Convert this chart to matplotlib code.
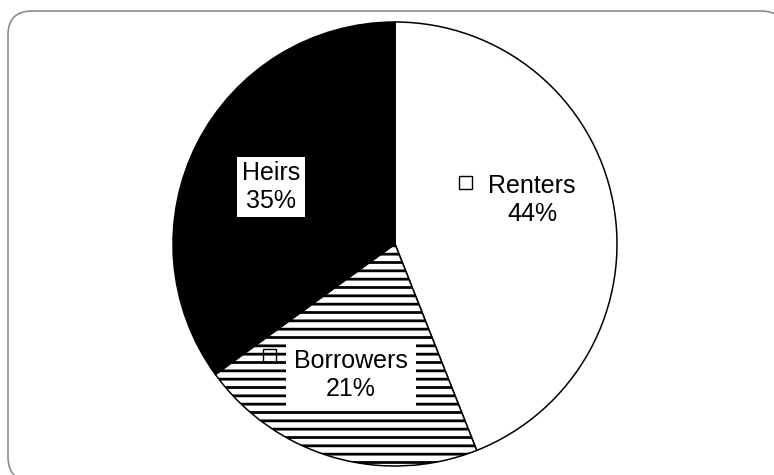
import matplotlib
matplotlib.use('Agg')
import matplotlib.pyplot as plt
from matplotlib.patches import FancyBboxPatch, Rectangle

plt.rcParams['font.family'] = ['Liberation Sans', 'DejaVu Sans']
plt.rcParams['hatch.linewidth'] = 2.0

# data
categories = ['Renters', 'Borrowers', 'Heirs']
shares = [44, 21, 35]

# styles
face_colors = ['white', 'white', 'black']
hatches = [None, '--', None]
# label centres in pixel coords (x from left, y from top)
label_pos = [(532, 200), (351, 375), (271, 187)]
box_pad = [None, 0.32, 0.18]
# key offset from label centre (dx, dy up), None = no key
key_off = [(-73, 11), (-88, 13), None]

W, H = 774, 475
fig = plt.figure(figsize=(W / 100, H / 100), dpi=100)
ax = fig.add_axes([0, 0, 1, 1])
ax.patch.set_visible(False)

wedges, _ = ax.pie(shares, colors=face_colors, startangle=90, counterclock=False,
                   center=(395, H - 244), radius=222,
                   wedgeprops=dict(edgecolor='black', linewidth=1.1))
for w, h in zip(wedges, hatches):
    if h:
        w.set_hatch(h)

for i, name in enumerate(categories):
    x, y = label_pos[i]
    txt = '{0}\n{1}%'.format(name, shares[i])
    bbox = None
    if box_pad[i]:
        bbox = dict(boxstyle='square,pad={0}'.format(box_pad[i]),
                    facecolor='white', edgecolor='none')
    ax.text(x, H - y, txt, ha='center', va='center', fontsize=18,
            linespacing=1.2, bbox=bbox, zorder=5)
    if key_off[i]:
        ks = 13
        dx, dy = key_off[i]
        key = Rectangle((x + dx, H - y + dy), ks, ks, facecolor='none',
                        edgecolor='black', linewidth=1.0, zorder=6)
        ax.add_patch(key)

ax.set_xlim(0, W)
ax.set_ylim(0, H)
ax.set_aspect('auto')
ax.axis('off')

# rounded frame in figure pixels, running off the right and bottom edges.
# filled so agg does not clip the stroke to the canvas edge
frame = FancyBboxPatch((8, -6), 777, 470,
                       boxstyle='round,pad=0,rounding_size=24',
                       facecolor='white', edgecolor='#8c8c8c', linewidth=1.2,
                       transform=None, zorder=-1)
fig.patches.append(frame)

fig.savefig('out.png', dpi=100)
